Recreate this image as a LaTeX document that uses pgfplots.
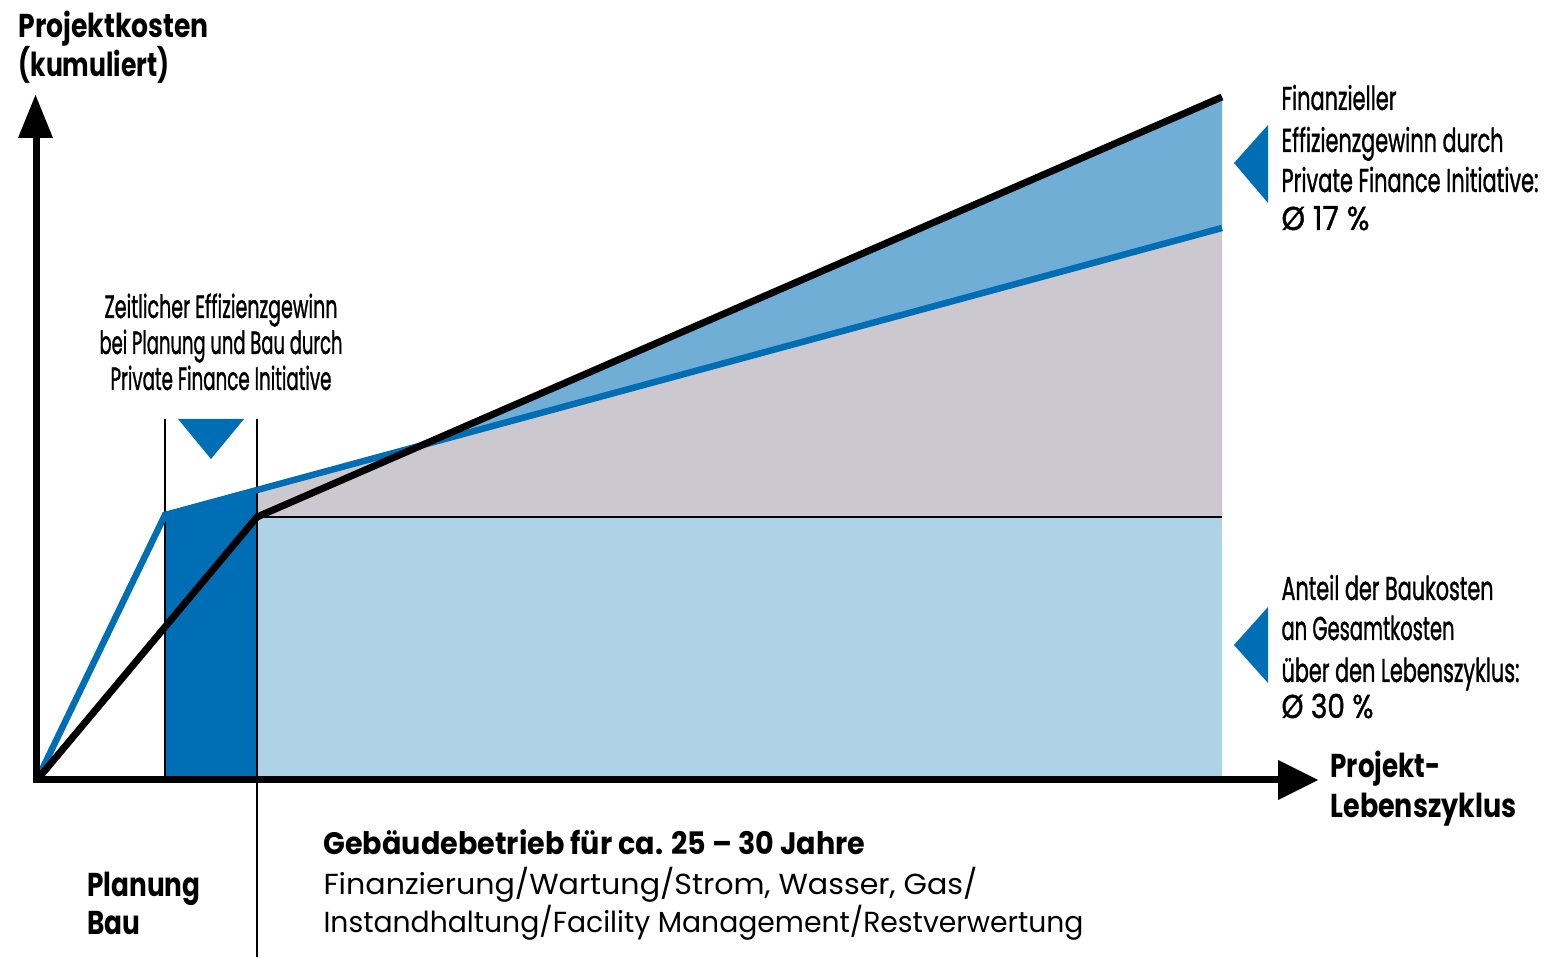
\documentclass[border=0pt]{standalone}
\usepackage{pgfplots}
\pgfplotsset{compat=1.18}
\usepackage{graphicx}
\usepackage{fontspec}
\setmainfont{Poppins}
\newfontfamily\cond[FakeBold=1.4]{Poppins}

\definecolor{pfidark}{RGB}{0,110,180}
\definecolor{pfimid}{RGB}{112,174,214}
\definecolor{pfilight}{RGB}{174,211,230}
\definecolor{pfigrey}{RGB}{203,201,207}

% text line squeezed to a given width, height kept
\newcommand{\tx}[3]{\resizebox{#1}{\height}{\fontsize{#2}{#2}\selectfont #3}}

\begin{document}
\begin{tikzpicture}
\begin{axis}[
    width=1545pt, height=957pt, scale only axis,
    xmin=-37, xmax=1508, ymin=-177, ymax=780,
    hide axis, clip=false, no markers,
    every node/.style={inner sep=0pt},
]
\addplot[draw=none, forget plot] coordinates {(-37,-177) (1508,780)};

% areas
\addplot[fill=pfilight, draw=none] coordinates {(220,0) (220,263) (1185,263) (1185,0)} -- cycle;
\addplot[fill=pfidark, draw=none] coordinates {(128,0) (128,265) (220,290) (220,0)} -- cycle;
\addplot[fill=pfigrey, draw=none] coordinates {(220,263) (220,290) (1185,552) (1185,263)} -- cycle;
\addplot[fill=pfimid, draw=none] coordinates {(385,335) (1185,683) (1185,552)} -- cycle;

% thin guide lines
\addplot[black, line width=1.5pt] coordinates {(128,0) (128,361)};
\addplot[black, line width=1.5pt] coordinates {(220,-177) (220,361)};
\addplot[black, line width=1.5pt] coordinates {(220,263) (1185,263)};

% cost curves
\addplot[pfidark, line width=6.5pt, line join=miter] coordinates {(0,0) (128,265) (1185,552)};
\addplot[black, line width=7pt, line join=miter] coordinates {(0,0) (220,263) (1185,683)};

% axes
\addplot[black, line width=7pt] coordinates {(-4,0) (1250,0)};
\addplot[black, line width=7pt] coordinates {(-1,-3) (-1,650)};
\addplot[fill=black, draw=none] coordinates {(1241,20) (1281,0) (1241,-20)} -- cycle;
\addplot[fill=black, draw=none] coordinates {(-19,642) (-1.5,685) (16,642)} -- cycle;

% pointers
\addplot[fill=pfidark, draw=none] coordinates {(141,361) (207,361) (174,321)} -- cycle;
\addplot[fill=pfidark, draw=none] coordinates {(1197,617) (1231,655) (1231,577)} -- cycle;
\addplot[fill=pfidark, draw=none] coordinates {(1197,135) (1231,173) (1231,97)} -- cycle;

% labels
\node[anchor=base west] at (axis cs:-22,742) {\tx{190pt}{33}{\bfseries Projektkosten}};
\node[anchor=base west] at (axis cs:-22,703) {\tx{151pt}{33}{\bfseries (kumuliert)}};

\node[anchor=base] at (axis cs:184,462) {\tx{233pt}{32}{\cond Zeitlicher Effizienzgewinn}};
\node[anchor=base] at (axis cs:184,426) {\tx{243pt}{32}{\cond bei Planung und Bau durch}};
\node[anchor=base] at (axis cs:184,390) {\tx{221pt}{32}{\cond Private Finance Initiative}};

\node[anchor=base west] at (axis cs:1241,670) {\tx{115pt}{33}{\cond Finanzieller}};
\node[anchor=base west] at (axis cs:1241,628) {\tx{222pt}{33}{\cond Effizienzgewinn durch}};
\node[anchor=base west] at (axis cs:1241,588) {\tx{257pt}{33}{\cond Private Finance Initiative:}};
\node[anchor=base west] at (axis cs:1241,550) {\tx{88pt}{33}{\cond Ø 17 \%}};

\node[anchor=base west] at (axis cs:1241,180) {\tx{212pt}{33}{\cond Anteil der Baukosten}};
\node[anchor=base west] at (axis cs:1241,140) {\tx{173pt}{33}{\cond an Gesamtkosten}};
\node[anchor=base west] at (axis cs:1241,98) {\tx{238pt}{33}{\cond über den Lebenszyklus:}};
\node[anchor=base west] at (axis cs:1241,62) {\tx{92pt}{33}{\cond Ø 30 \%}};

\node[anchor=base west] at (axis cs:1290,2) {\tx{110pt}{33}{\bfseries Projekt-}};
\node[anchor=base west] at (axis cs:1290,-38) {\tx{186pt}{33}{\bfseries Lebenszyklus}};

\node[anchor=base west] at (axis cs:47,-117) {\tx{113pt}{33}{\bfseries Planung}};
\node[anchor=base west] at (axis cs:47,-155) {\tx{53pt}{33}{\bfseries Bau}};

\node[anchor=base west] at (axis cs:283,-75) {\tx{542pt}{31}{\bfseries Gebäudebetrieb für ca. 25 – 30 Jahre}};
\node[anchor=base west] at (axis cs:283,-115) {\tx{654pt}{29}{Finanzierung/Wartung/Strom, Wasser, Gas/}};
\node[anchor=base west] at (axis cs:283,-153) {\tx{760pt}{29}{Instandhaltung/Facility Management/Restverwertung}};
\end{axis}
\end{tikzpicture}
\end{document}
